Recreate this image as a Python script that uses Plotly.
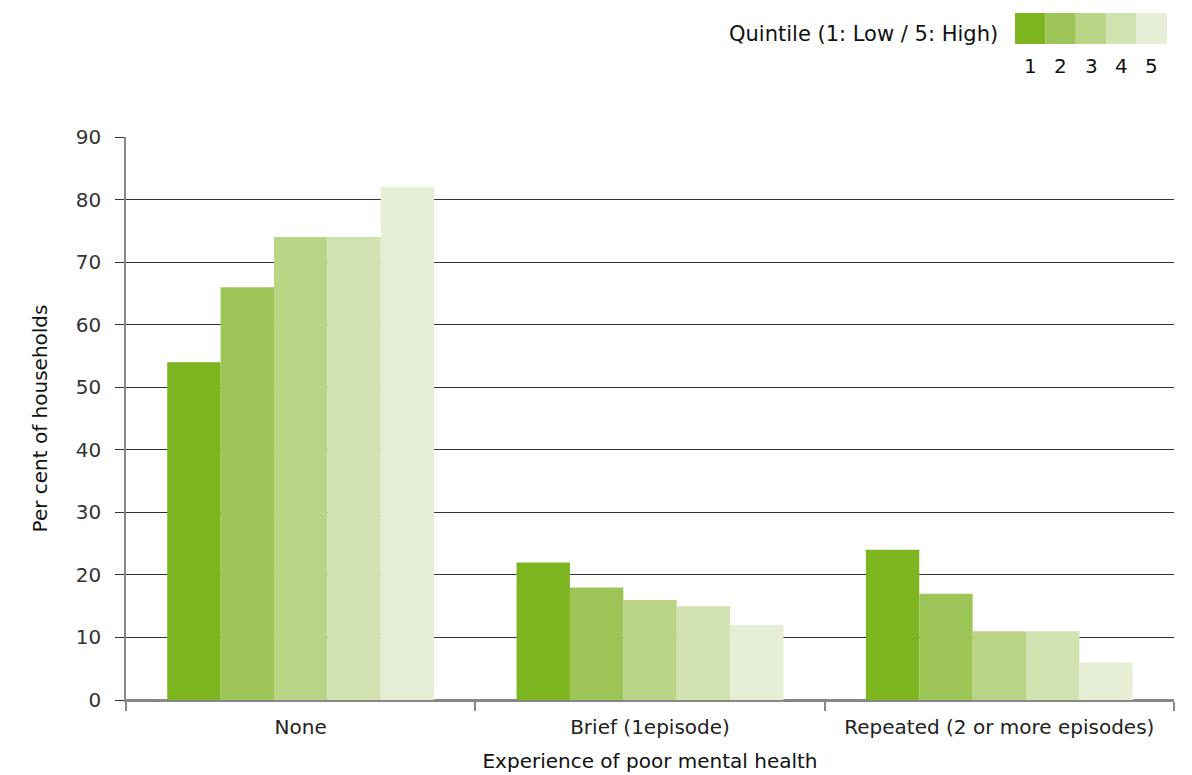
import plotly.graph_objects as go

categories = ["None", "Brief (1episode)", "Repeated (2 or more episodes)"]
quintiles = ["1", "2", "3", "4", "5"]
values = {
    "1": [54, 22, 24],
    "2": [66, 18, 17],
    "3": [74, 16, 11],
    "4": [74, 15, 11],
    "5": [82, 12, 6],
}
colors = ["#7DB521", "#9DC456", "#B8D484", "#D2E2B0", "#E6EFD6"]
y_ticks = [0, 10, 20, 30, 40, 50, 60, 70, 80, 90]
legend_title = "Quintile (1: Low / 5: High)"
x_title = "Experience of poor mental health"
y_title = "Per cent of households"

# page has an 8px body margin; compensate so the plot lands where intended
OFF = 8
W, H = 1192 - OFF, 775 - OFF
ML, MR, MT, MB = 126 - OFF, 18, 137 - OFF, 75
PW, PH = W - ML - MR, H - MT - MB
FONT = "DejaVu Sans"

fig = go.Figure()
for q, c in zip(quintiles, colors):
    fig.add_trace(go.Bar(x=categories, y=values[q], name=q,
                         marker=dict(color=c, line=dict(width=0)),
                         showlegend=False))

def px_x(p):
    return (p - OFF - ML) / PW

def px_y(p):
    return (MT + PH - (p - OFF)) / PH

# legend: colour strip with numbers below
sw_left, sw_w, sw_top, sw_bot = 1015, 30.4, 13, 44
shapes = []
annotations = []
for i, (q, c) in enumerate(zip(quintiles, colors)):
    x0 = sw_left + i * sw_w
    shapes.append(dict(type="rect", xref="paper", yref="paper",
                       x0=px_x(x0), x1=px_x(x0 + sw_w),
                       y0=px_y(sw_bot), y1=px_y(sw_top),
                       fillcolor=c, line=dict(width=0), layer="above"))
    annotations.append(dict(text=q, xref="paper", yref="paper",
                            x=px_x(x0 + sw_w / 2), y=px_y(66),
                            xanchor="center", yanchor="middle", showarrow=False,
                            font=dict(family=FONT, size=20, color="#111")))
annotations.append(dict(text=legend_title, xref="paper", yref="paper",
                        x=px_x(1000), y=px_y(34), xanchor="right", yanchor="middle",
                        showarrow=False, font=dict(family=FONT, size=21, color="#111")))

fig.update_layout(
    width=W, height=H,
    margin=dict(l=ML, r=MR, t=MT, b=MB, pad=0),
    paper_bgcolor="white", plot_bgcolor="white",
    barmode="group", bargap=0.236, bargroupgap=0,
    font=dict(family=FONT, size=20, color="#222"),
    shapes=shapes, annotations=annotations,
    xaxis=dict(
        automargin=False,
        showline=True, linecolor="#888", linewidth=1.5,
        ticks="outside", tickson="boundaries", ticklen=9, tickcolor="#888", tickwidth=1.5,
        showgrid=False,
        ticklabelstandoff=8,
        tickfont=dict(family=FONT, size=20, color="#222"),
        title=dict(text=x_title, standoff=16, font=dict(family=FONT, size=20, color="#111")),
    ),
    yaxis=dict(
        automargin=False,
        range=[0, 90], tickvals=y_ticks,
        showline=True, linecolor="#888", linewidth=1.5,
        showgrid=True, gridcolor="#333", gridwidth=1,
        zeroline=True, zerolinecolor="#888", zerolinewidth=1.5,
        ticks="outside", ticklen=9, tickcolor="#333", tickwidth=1,
        ticklabelstandoff=10,
        tickfont=dict(family=FONT, size=20, color="#333"),
        title=dict(text=y_title, standoff=23, font=dict(family=FONT, size=20, color="#111")),
    ),
)

fig.write_html("out.html")
